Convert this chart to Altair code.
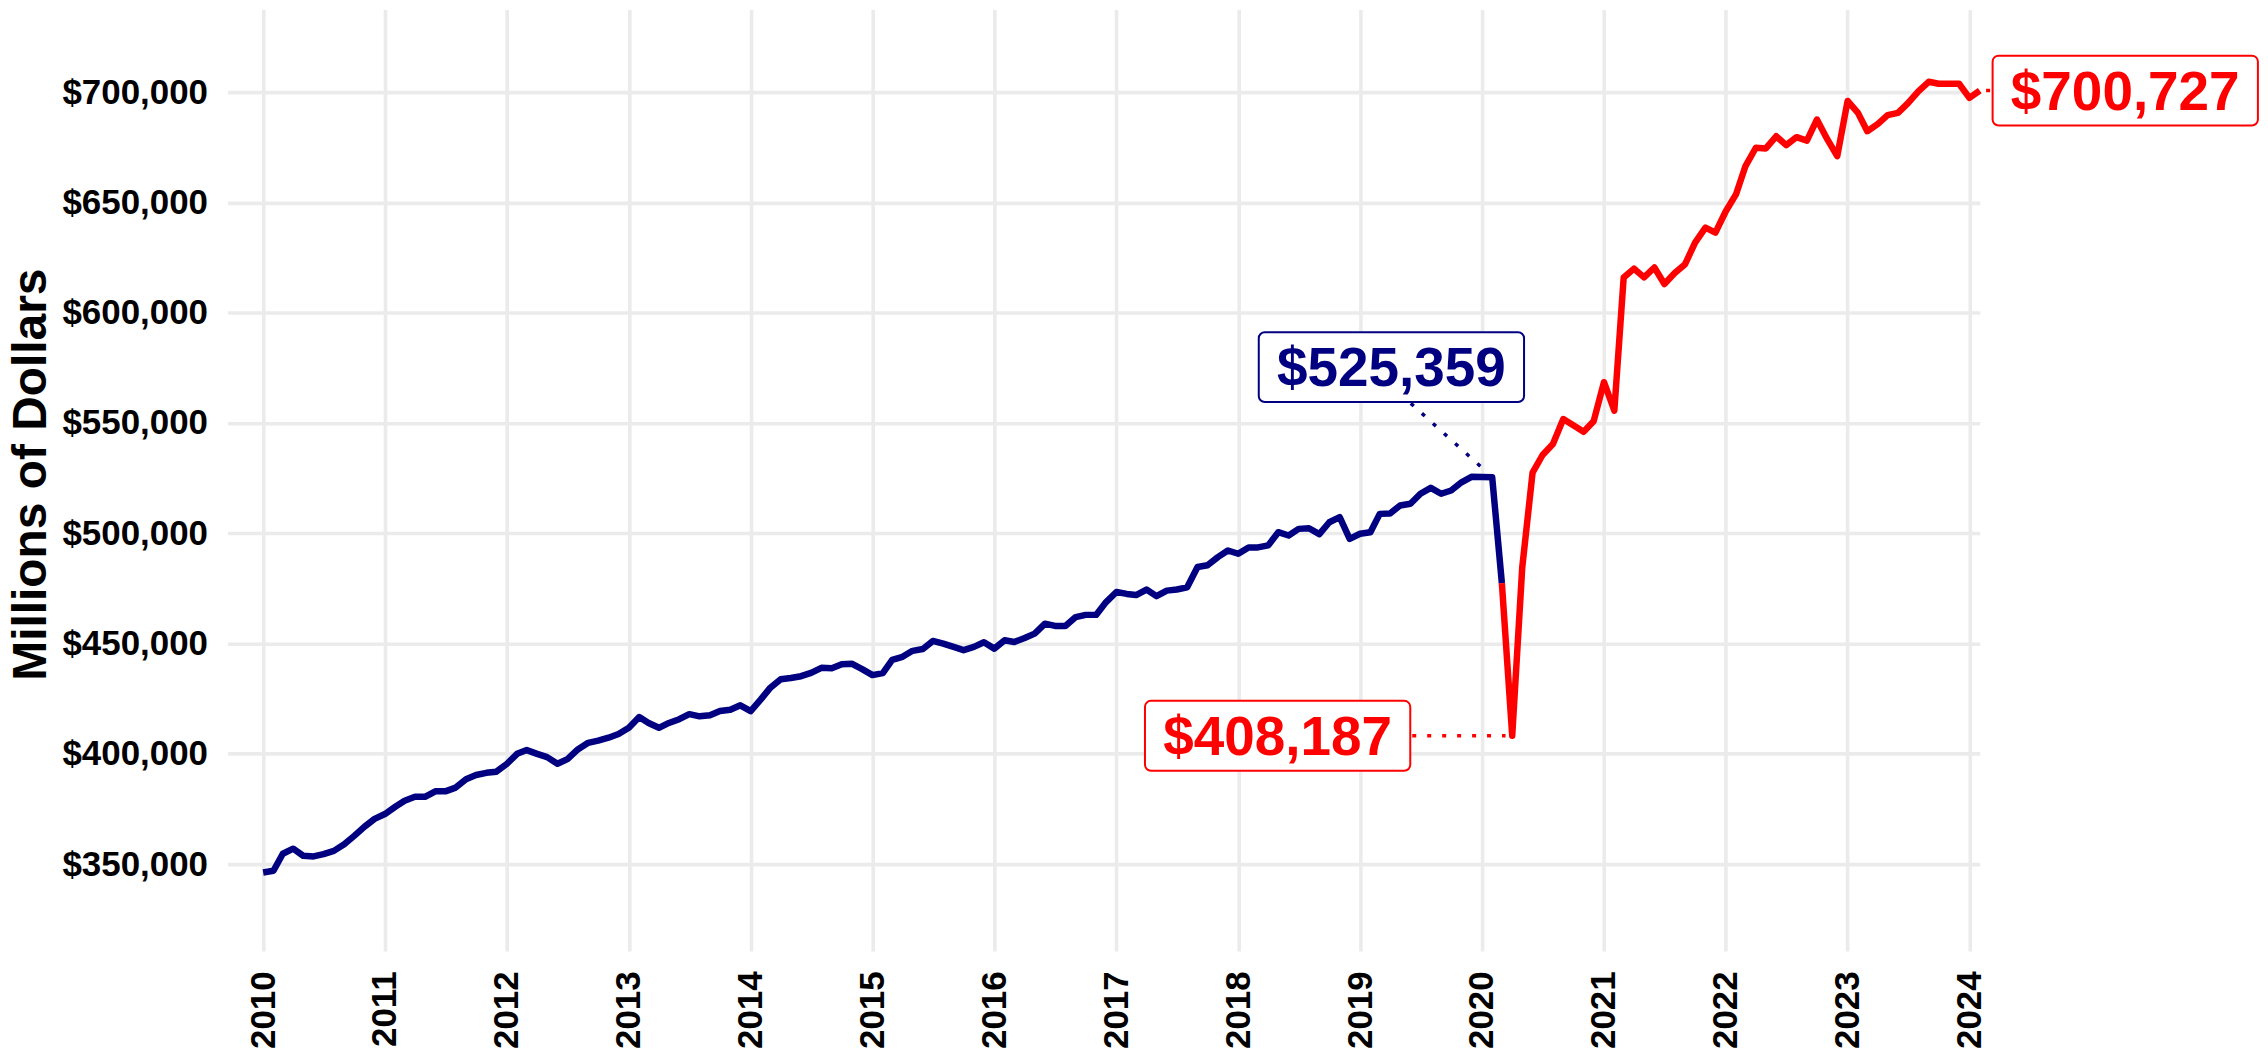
import altair as alt
import pandas as pd

# Monthly values, thousands of millions of dollars
sales_2010 = [346.2, 347.0, 354.7, 357.0, 353.8, 353.5, 354.5, 356.0, 359.0, 362.8, 367.0, 370.5]
sales_2011 = [372.7, 376.0, 378.7, 380.5, 380.5, 383.0, 383.0, 384.7, 388.5, 390.4, 391.4, 391.9]
sales_2012 = [395.4, 400.0, 401.7, 400.0, 398.5, 395.5, 397.6, 402.0, 405.0, 406.0, 407.3, 409.0]
sales_2013 = [411.8, 416.7, 414.0, 411.8, 414.0, 415.7, 418.0, 417.0, 417.5, 419.4, 420.0, 422.0]
sales_2014 = [419.4, 424.8, 430.0, 433.8, 434.4, 435.2, 436.7, 439.0, 438.8, 440.6, 440.8, 438.4]
sales_2015 = [435.7, 436.6, 442.6, 444.0, 446.7, 447.5, 451.2, 450.0, 448.5, 447.0, 448.5, 450.6]
sales_2016 = [447.7, 451.5, 450.7, 452.5, 454.5, 459.0, 458.0, 458.0, 462.0, 463.0, 463.0, 468.8]
sales_2017 = [473.4, 472.5, 472.0, 474.5, 471.5, 474.0, 474.5, 475.5, 484.7, 485.5, 489.2, 492.2]
sales_2018 = [490.7, 493.6, 493.6, 494.5, 500.5, 499.0, 502.0, 502.3, 499.6, 505.0, 507.3, 497.5]
sales_2019 = [499.8, 500.5, 508.8, 509.0, 512.6, 513.4, 517.9, 520.6, 517.9, 519.4, 523.1, 525.6]
sales_2020 = [525.5, 525.359, 477.4, 408.187, 484.4, 527.5, 535.5, 540.5, 551.8, 549.0, 546.0, 550.8]
sales_2021 = [568.5, 555.6, 616.0, 620.0, 616.0, 620.5, 613.0, 618.0, 622.0, 631.8, 638.6, 636.3]
sales_2022 = [646.0, 653.8, 666.5, 674.8, 674.5, 680.0, 676.0, 679.6, 678.0, 687.6, 678.7, 671.0]
sales_2023 = [696.0, 690.6, 682.3, 685.5, 689.6, 690.6, 695.0, 700.4, 704.7, 703.8, 703.8, 703.8]
sales_2024 = [697.4, 700.727]

yearly = {
    2010: sales_2010, 2011: sales_2011, 2012: sales_2012, 2013: sales_2013,
    2014: sales_2014, 2015: sales_2015, 2016: sales_2016, 2017: sales_2017,
    2018: sales_2018, 2019: sales_2019, 2020: sales_2020, 2021: sales_2021,
    2022: sales_2022, 2023: sales_2023, 2024: sales_2024,
}

rows = []
for year, vals in yearly.items():
    for m, v in enumerate(vals, start=1):
        rows.append({"date": f"{year}-{m:02d}-01", "value": round(v * 1000, 1)})
df = pd.DataFrame(rows)

break_date = "2020-03-01"
pre = df[df["date"] <= break_date].assign(kind="pre")
post = df[df["date"] >= break_date].assign(kind="post")
line_df = pd.concat([pre, post], ignore_index=True)

# Annotation labels
label_dates = ["2019-04-05", "2018-04-29", "2025-04-12"]
label_values = [575330, 408187, 700727]
label_texts = ["$525,359", "$408,187", "$700,727"]
label_kinds = ["pre", "post", "post"]
labels_df = pd.DataFrame({"date": label_dates, "value": label_values,
                          "text": label_texts, "kind": label_kinds})

# Connector segments (label -> point)
conn_start_dates = ["2019-06-02", "2018-04-29", "2024-02-20"]
conn_start_values = [558900, 408187, 700727]
conn_end_dates = ["2020-01-03", "2020-03-12", "2025-04-12"]
conn_end_values = [529500, 408187, 700727]
conn_df = pd.DataFrame({"date": conn_start_dates, "value": conn_start_values,
                        "date2": conn_end_dates, "value2": conn_end_values,
                        "kind": label_kinds})

year_ticks = [alt.DateTime(year=y, month=1, date=1, utc=True) for y in range(2010, 2025)]
y_ticks = list(range(350000, 700001, 50000))

x_scale = alt.Scale(type="utc", nice=False,
                    domain=[alt.DateTime(year=2009, month=9, date=16, utc=True),
                            alt.DateTime(year=2024, month=2, date=1, utc=True)])
y_scale = alt.Scale(domain=[310660, 737530], nice=False, zero=False)
color_scale = alt.Scale(domain=["pre", "post"], range=["navy", "red"])

x_enc = alt.X("date:T", scale=x_scale, title=None,
              axis=alt.Axis(values=year_ticks, format="%Y", labelAngle=270,
                            labelPadding=20, grid=True))
y_enc = alt.Y("value:Q", scale=y_scale, title="Millions of Dollars",
              axis=alt.Axis(values=y_ticks, format="$,.0f", labelPadding=20, grid=True,
                            titleFontSize=48, titleFontWeight="bold",
                            titleFont="Liberation Sans", titleColor="black",
                            titleAngle=270, titleX=-182, titleY=466,
                            titleAlign="center", titleBaseline="alphabetic"))

line = alt.Chart(line_df).mark_line(strokeWidth=6.5, strokeJoin="round").encode(
    x=x_enc, y=y_enc,
    color=alt.Color("kind:N", scale=color_scale, legend=None),
    detail="kind:N",
    order="date:T",
)

connectors = alt.Chart(conn_df).mark_rule(strokeDash=[4, 11], strokeWidth=3.5).encode(
    x="date:T", y="value:Q", x2="date2:T", y2="value2:Q",
    color=alt.Color("kind:N", scale=color_scale, legend=None),
)

boxes = alt.Chart(labels_df).mark_rect(
    xOffset=-133, x2Offset=133, yOffset=-35, y2Offset=35,
    cornerRadius=6, fill="white", strokeWidth=2,
).encode(
    x="date:T", x2="date:T", y="value:Q", y2="value:Q",
    stroke=alt.Stroke("kind:N", scale=color_scale, legend=None),
)

texts = alt.Chart(labels_df).mark_text(
    font="Liberation Sans", fontSize=55, fontWeight="bold",
    align="center", baseline="middle", dy=2,
).encode(
    x="date:T", y="value:Q", text="text:N",
    color=alt.Color("kind:N", scale=color_scale, legend=None),
)

chart = alt.layer(line, connectors, boxes, texts).properties(
    width=1757, height=944,
    padding={"left": 220, "top": 0, "right": 281, "bottom": 100},
    autosize=alt.AutoSizeParams(type="none"),
).configure_axis(
    labelFont="Liberation Sans", labelFontSize=35, labelFontWeight="bold",
    labelColor="black", gridColor="#EBEBEB", gridWidth=3.6,
    domain=False, ticks=False, tickSize=0,
).configure_view(stroke="transparent")

chart.save("out.html", embed_options={"renderer": "svg", "actions": False})
